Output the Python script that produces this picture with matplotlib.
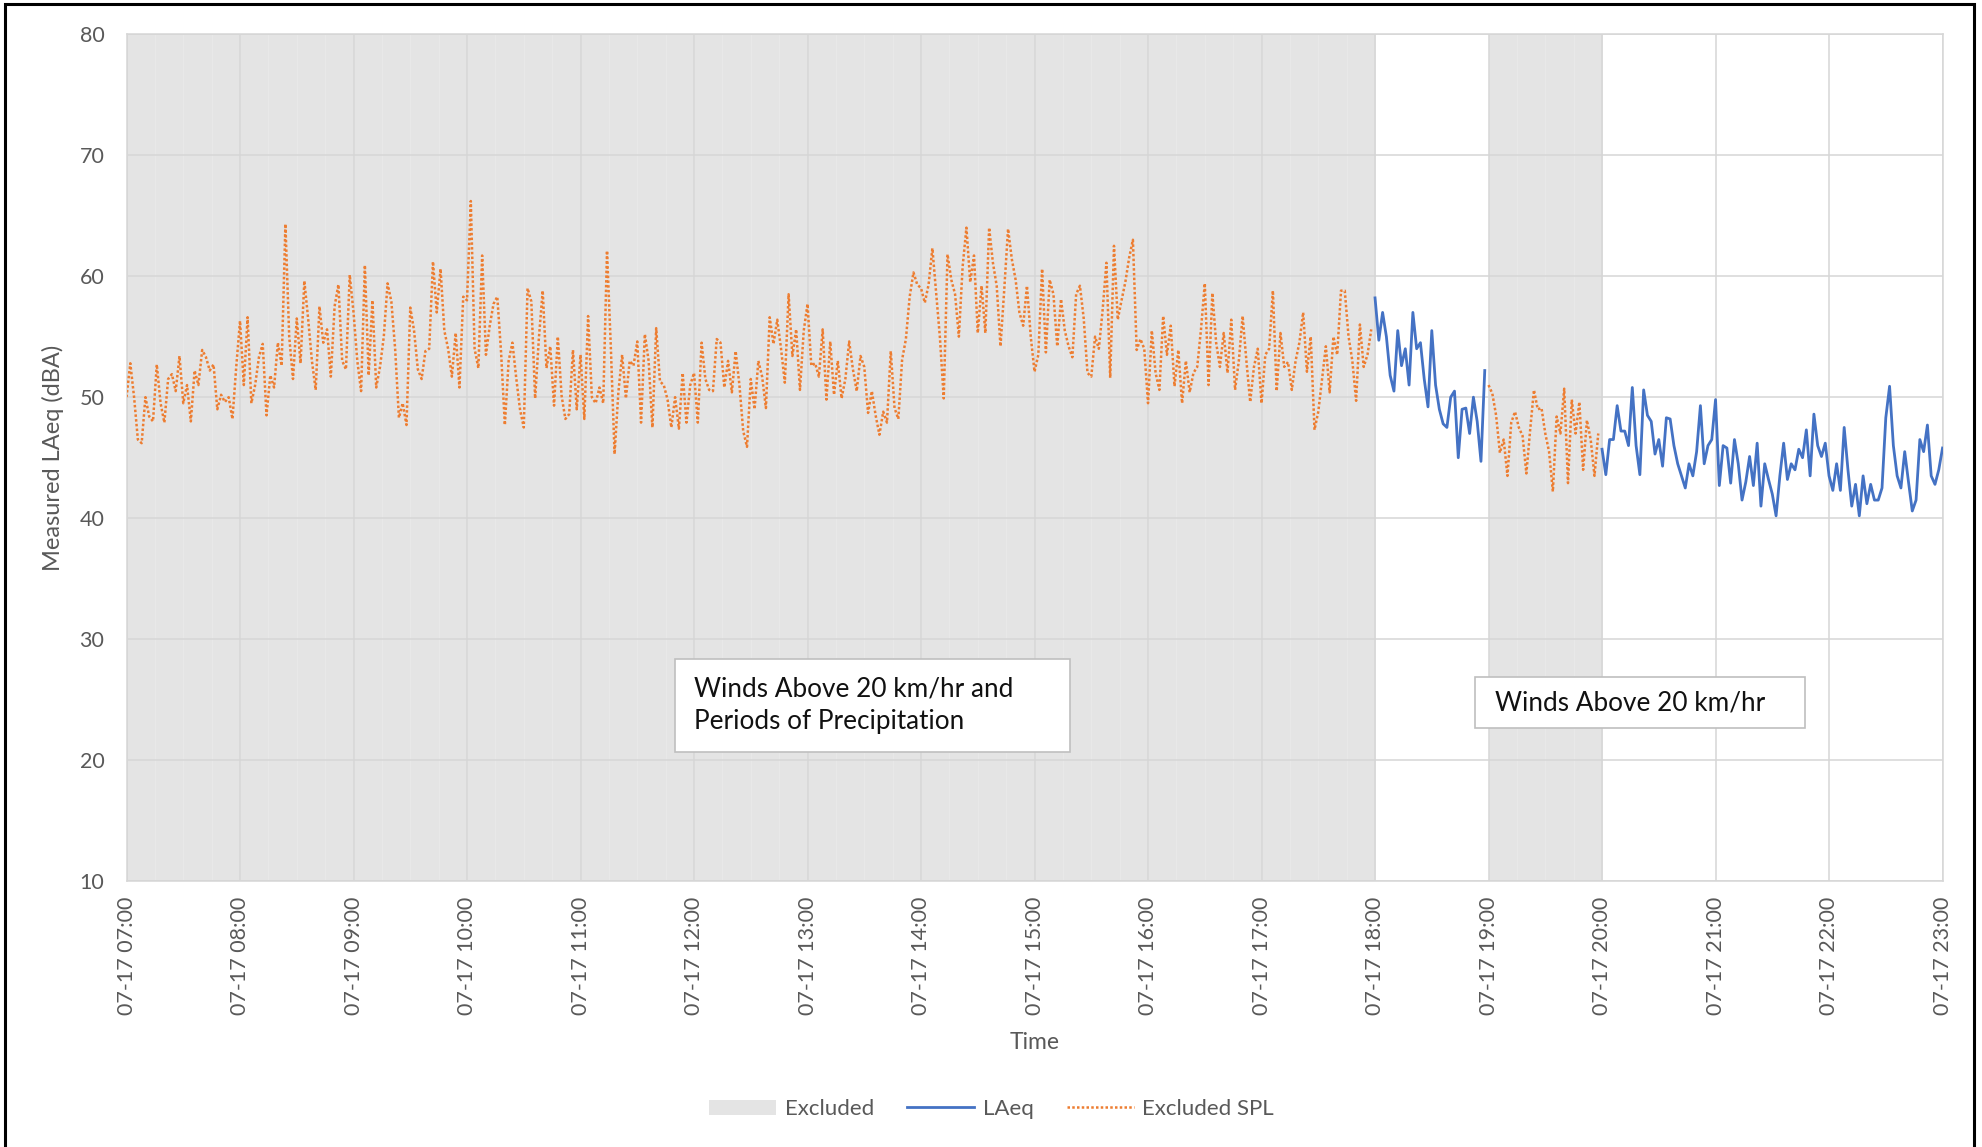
import numpy as np
import matplotlib.pyplot as plt
from matplotlib.patches import Patch, Rectangle
from matplotlib.lines import Line2D

plt.rcParams['font.family'] = ['Lato', 'DejaVu Sans']

# measured levels, one value every 2 minutes (dBA)
spl_07 = [50.0, 52.8, 50.0, 46.5, 46.2, 50.0, 48.4, 48.0, 52.7, 49.5,
          47.9, 51.5, 51.9, 50.5, 53.4, 49.5, 51.0, 48.0, 52.2, 51.0,
          53.9, 53.3, 52.2, 52.7, 49.0, 50.2, 49.6, 50.0, 48.2, 52.5]
spl_08 = [56.3, 51.0, 56.6, 49.5, 51.0, 53.3, 54.4, 48.5, 51.8, 50.8,
          54.5, 52.6, 64.3, 55.0, 51.5, 56.5, 52.8, 59.6, 56.5, 53.0,
          50.6, 57.5, 54.5, 55.6, 51.7, 57.5, 59.3, 53.0, 52.3, 60.1]
spl_09 = [57.0, 53.0, 50.5, 60.9, 51.8, 58.0, 50.8, 52.5, 55.0, 59.4,
          57.9, 54.0, 48.3, 49.5, 47.7, 57.4, 55.5, 52.3, 51.5, 53.8,
          54.0, 61.2, 57.0, 60.6, 55.5, 54.0, 51.7, 55.3, 50.8, 58.3]
spl_10 = [58.0, 66.2, 54.0, 52.4, 61.7, 53.5, 55.9, 57.7, 58.3, 53.7,
          47.7, 53.0, 54.5, 51.6, 49.0, 47.5, 59.0, 57.9, 49.9, 54.9,
          58.8, 52.4, 54.2, 49.3, 55.0, 50.1, 48.2, 48.6, 53.9, 49.0]
spl_11 = [53.5, 48.2, 56.7, 50.0, 49.5, 50.8, 49.5, 62.1, 54.2, 45.3,
          50.4, 53.5, 49.9, 53.0, 52.6, 54.6, 47.9, 55.2, 53.0, 47.5,
          55.7, 51.3, 51.0, 49.8, 47.5, 50.0, 47.4, 52.0, 47.9, 51.0]
spl_12 = [52.0, 47.9, 54.5, 51.5, 50.6, 50.5, 54.8, 54.5, 50.8, 53.0,
          50.4, 53.8, 51.0, 47.2, 45.9, 51.5, 49.0, 53.0, 51.7, 49.1,
          56.6, 54.4, 56.4, 54.0, 51.2, 58.5, 53.4, 55.6, 50.6, 55.5]
spl_13 = [57.7, 52.6, 52.8, 51.7, 55.6, 49.8, 54.6, 50.2, 53.0, 49.9,
          51.5, 54.6, 52.3, 50.5, 53.4, 52.5, 48.7, 50.5, 48.5, 46.9,
          48.8, 47.9, 53.8, 49.1, 48.2, 53.1, 54.8, 58.3, 60.3, 59.3]
spl_14 = [59.0, 57.8, 59.3, 62.3, 58.6, 54.9, 49.9, 61.8, 59.7, 58.5,
          55.0, 60.8, 64.0, 59.5, 61.7, 55.3, 59.2, 55.3, 64.0, 61.1,
          59.2, 54.2, 58.9, 63.9, 61.4, 59.7, 57.0, 55.9, 59.2, 55.0]
spl_15 = [52.1, 53.5, 60.6, 53.7, 59.7, 58.5, 54.2, 58.1, 55.5, 54.2,
          53.3, 58.5, 59.2, 56.5, 52.0, 51.7, 55.0, 54.0, 57.2, 61.1,
          51.6, 62.5, 56.4, 58.0, 59.5, 61.5, 63.0, 53.9, 54.8, 54.0]
spl_16 = [49.5, 55.5, 52.0, 50.6, 56.7, 53.5, 55.9, 50.9, 53.9, 49.5,
          53.0, 50.4, 52.0, 52.5, 55.6, 59.4, 51.0, 58.6, 54.5, 52.5,
          55.3, 52.0, 56.4, 50.6, 53.0, 56.7, 53.0, 49.6, 52.5, 54.0]
spl_17 = [49.5, 53.5, 54.0, 58.8, 50.5, 55.3, 52.5, 52.9, 50.6, 53.0,
          54.5, 57.0, 52.1, 55.0, 47.3, 48.8, 51.5, 54.2, 50.4, 55.0,
          53.5, 58.8, 58.8, 55.0, 53.0, 49.7, 56.0, 52.5, 53.5, 55.6]
laeq_18 = [58.2, 54.7, 57.0, 55.0, 51.8, 50.5, 55.5, 52.6, 54.0, 51.0,
           57.0, 54.0, 54.5, 51.5, 49.2, 55.5, 51.0, 49.0, 47.8, 47.5,
           50.0, 50.5, 45.0, 49.0, 49.1, 47.0, 50.0, 48.0, 44.7, 52.2]
spl_19 = [51.0, 50.3, 48.5, 45.4, 46.5, 43.5, 47.9, 48.8, 47.5, 46.8,
          43.7, 47.3, 50.6, 49.0, 49.1, 47.0, 45.5, 42.2, 48.4, 47.0,
          50.7, 42.9, 49.8, 47.0, 49.6, 44.0, 48.1, 46.5, 43.5, 47.0]
laeq_20 = [45.7, 43.6, 46.5, 46.5, 49.3, 47.2, 47.2, 46.0, 50.8, 46.0,
           43.6, 50.6, 48.5, 48.0, 45.3, 46.5, 44.3, 48.3, 48.2, 46.0,
           44.5, 43.5, 42.5, 44.5, 43.5, 45.5, 49.3, 44.5, 46.0, 46.5]
laeq_21 = [49.8, 42.7, 46.0, 45.8, 42.9, 46.5, 44.5, 41.5, 43.0, 45.1,
           42.7, 46.2, 41.0, 44.5, 43.2, 42.0, 40.2, 43.5, 46.2, 43.2,
           44.5, 44.0, 45.7, 45.0, 47.3, 43.5, 48.6, 46.0, 45.1, 46.2]
laeq_22 = [43.5, 42.3, 44.5, 42.3, 47.5, 44.0, 41.0, 42.8, 40.2, 43.5,
           41.2, 42.8, 41.5, 41.5, 42.5, 48.3, 50.9, 46.0, 43.5, 42.5,
           45.5, 43.0, 40.6, 41.5, 46.5, 45.5, 47.7, 43.5, 42.8, 44.0]
laeq_2300 = [45.8]

excluded_spans = [(7, 18), (19, 20)]
hours = list(range(7, 24))
tick_labels = ["07-17 %02d:00" % h for h in hours]

step = 2 / 60
orange = "#ED7D31"
blue = "#4472C4"
txt = "#595959"

fig = plt.figure(figsize=(19.83, 11.47), dpi=100)
ax = fig.add_axes([0.0638, 0.2315, 0.9158, 0.7389])

# excluded shading, drawn as 15 minute bars like the source sheet
for a, b in excluded_spans:
    centers = np.arange(a, b, 0.25) + 0.125
    ax.bar(centers, 70, width=0.25, bottom=10, color="#e4e4e4",
           edgecolor="#e9e9e9", linewidth=0.6, zorder=0.2)

day = spl_07 + spl_08 + spl_09 + spl_10 + spl_11 + spl_12 + spl_13 + spl_14 + spl_15 + spl_16 + spl_17
t_day = 7 + np.arange(len(day)) * step
t_18 = 18 + np.arange(len(laeq_18)) * step
t_19 = 19 + np.arange(len(spl_19)) * step
eve = laeq_20 + laeq_21 + laeq_22 + laeq_2300
t_eve = 20 + np.arange(len(eve)) * step

dot = (0, (1, 0.9))
ax.plot(t_day, day, color=orange, lw=1.8, ls=dot, zorder=3)
ax.plot(t_19, spl_19, color=orange, lw=1.8, ls=dot, zorder=3)
ax.plot(t_18, laeq_18, color=blue, lw=2.0, zorder=3, solid_joinstyle="round")
ax.plot(t_eve, eve, color=blue, lw=2.0, zorder=3, solid_joinstyle="round")

ax.set_xlim(7, 23)
ax.set_ylim(10, 80)
ax.set_yticks(range(10, 81, 10))
ax.set_xticks(hours)
ax.set_xticklabels(tick_labels, rotation=90)
ax.set_axisbelow(True)
ax.grid(True, color="#d6d6d6", lw=1.1)
ax.tick_params(length=0, labelsize=15.5, labelcolor=txt)
ax.tick_params(axis="x", pad=11)
ax.tick_params(axis="y", pad=16)
for s in ax.spines.values():
    s.set_color("#d6d6d6")
    s.set_linewidth(1.1)

ax.set_xlabel("Time", fontsize=16.5, color=txt, labelpad=12)
ax.set_ylabel("Measured LAeq (dBA)", fontsize=17, color=txt, labelpad=11)

# annotation boxes
ax.add_patch(Rectangle((0.302, 0.1528), 0.2175, 0.1097, transform=ax.transAxes,
                       facecolor="white", edgecolor="#bfbfbf", lw=1.2, zorder=4))
ax.text(0.3125, 0.2077, "Winds Above 20 km/hr and\nPeriods of Precipitation",
        transform=ax.transAxes, ha="left", va="center", fontsize=18.8,
        color="#111111", linespacing=1.4, zorder=5)
ax.add_patch(Rectangle((0.7426, 0.1811), 0.1817, 0.0602, transform=ax.transAxes,
                       facecolor="white", edgecolor="#bfbfbf", lw=1.2, zorder=4))
ax.text(0.7535, 0.211, "Winds Above 20 km/hr", transform=ax.transAxes,
        ha="left", va="center", fontsize=18.8, color="#111111", zorder=5)

handles = [Patch(facecolor="#e4e4e4", edgecolor="none"),
           Line2D([], [], color=blue, lw=2.0),
           Line2D([], [], color=orange, lw=1.8, ls=dot)]
fig.legend(handles, ["Excluded", "LAeq", "Excluded SPL"], loc="center",
           bbox_to_anchor=(0.5, 0.033), ncol=3, frameon=False,
           fontsize=16, labelcolor=txt, handlelength=3.0, handletextpad=0.4,
           columnspacing=1.5)

# outer chart border
fig.add_artist(Rectangle((5 / 1983, -0.05), 1969 / 1983, 1.05 - 4 / 1147,
                         transform=fig.transFigure, fill=False,
                         edgecolor="black", lw=2.2))

fig.savefig("out.png", dpi=100)
